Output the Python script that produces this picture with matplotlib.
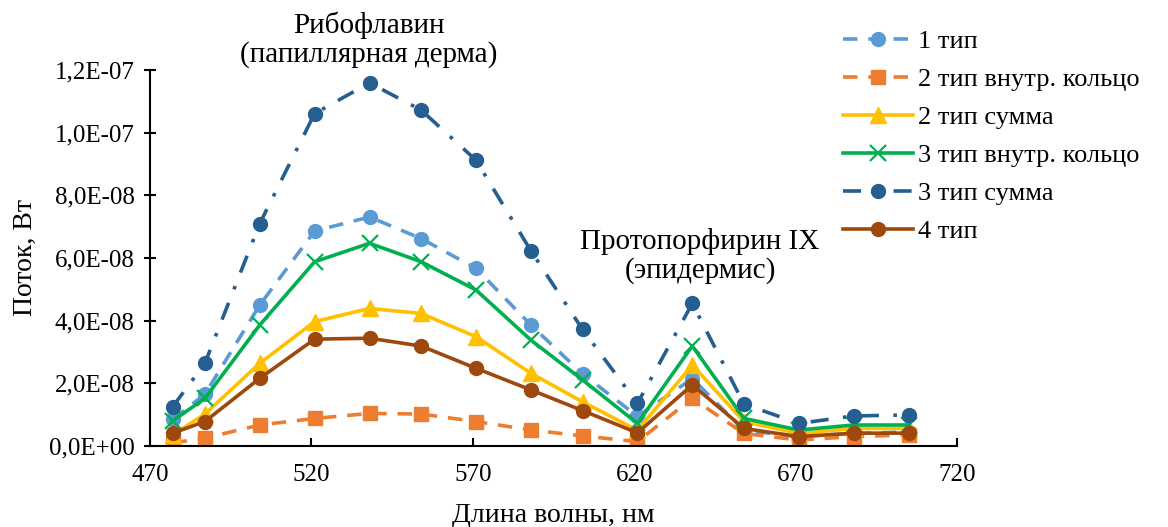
import matplotlib
matplotlib.use("Agg")
import matplotlib.pyplot as plt
from matplotlib.ticker import FuncFormatter, MultipleLocator

plt.rcParams['font.family'] = ['Liberation Serif', 'DejaVu Serif']

# wavelengths, nm
wl = [477, 487, 504, 521, 538, 554, 571, 588, 604, 621, 638, 654, 671, 688, 705]

# flux values, W
t1 = [0.85e-8, 1.65e-8, 4.50e-8, 6.86e-8, 7.31e-8, 6.62e-8, 5.67e-8, 3.86e-8, 2.30e-8, 0.95e-8,
      2.15e-8, 0.50e-8, 0.30e-8, 0.40e-8, 0.45e-8]
t2_ring = [0.10e-8, 0.25e-8, 0.67e-8, 0.88e-8, 1.04e-8, 1.02e-8, 0.78e-8, 0.51e-8, 0.32e-8, 0.14e-8,
           1.52e-8, 0.40e-8, 0.19e-8, 0.30e-8, 0.35e-8]
t2_sum = [0.35e-8, 1.02e-8, 2.64e-8, 3.97e-8, 4.39e-8, 4.23e-8, 3.49e-8, 2.32e-8, 1.41e-8, 0.50e-8,
          2.58e-8, 0.78e-8, 0.40e-8, 0.56e-8, 0.56e-8]
t3_ring = [0.80e-8, 1.52e-8, 3.86e-8, 5.88e-8, 6.47e-8, 5.88e-8, 4.98e-8, 3.38e-8, 2.11e-8, 0.72e-8,
           3.19e-8, 0.88e-8, 0.51e-8, 0.67e-8, 0.67e-8]
t3_sum = [1.25e-8, 2.64e-8, 7.10e-8, 10.61e-8, 11.59e-8, 10.72e-8, 9.12e-8, 6.23e-8, 3.72e-8, 1.36e-8,
          4.55e-8, 1.34e-8, 0.72e-8, 0.96e-8, 0.99e-8]
t4 = [0.41e-8, 0.78e-8, 2.16e-8, 3.41e-8, 3.44e-8, 3.19e-8, 2.48e-8, 1.79e-8, 1.13e-8, 0.42e-8,
      1.95e-8, 0.56e-8, 0.30e-8, 0.41e-8, 0.41e-8]

labels = ['1 тип', '2 тип внутр. кольцо', '2 тип сумма', '3 тип внутр. кольцо', '3 тип сумма', '4 тип']
xticks = [470, 520, 570, 620, 670, 720]

W, H = 1168, 527
fig = plt.figure(figsize=(W / 100, H / 100), dpi=100)
ax = fig.add_axes([150 / W, 1 - 446 / H, (957 - 150) / W, (446 - 70) / H])

lw = 2.6
ms = 10
ax.plot(wl, t1, color='#5B9BD5', lw=lw, ls=(0, (4, 3)), marker='o', ms=ms, label=labels[0])
ax.plot(wl, t2_ring, color='#ED7D31', lw=lw, ls=(0, (4, 3)), marker='s', ms=ms, label=labels[1])
ax.plot(wl, t2_sum, color='#FFC000', lw=lw, ls='-', marker='^', ms=ms + 1, label=labels[2])
ax.plot(wl, t3_ring, color='#00B050', lw=lw, ls='-', marker='x', ms=ms + 1, mew=1.6, label=labels[3])
ax.plot(wl, t3_sum, color='#255E91', lw=lw, ls=(0, (5, 4, 1, 4)), marker='o', ms=ms, label=labels[4])
ax.plot(wl, t4, color='#9E480E', lw=lw, ls='-', marker='o', ms=ms, label=labels[5])

ax.set_xlim(470, 720)
ax.set_ylim(0, 1.2e-7)
ax.set_xticks(xticks)
ax.yaxis.set_major_locator(MultipleLocator(2e-8))
ax.yaxis.set_major_formatter(FuncFormatter(lambda v, p: f"{v:.1E}".replace('.', ',')))

for s in ['top', 'right']:
    ax.spines[s].set_visible(False)
for s in ['left', 'bottom']:
    ax.spines[s].set_linewidth(1.5)
ax.tick_params(axis='x', direction='in', length=6, width=1.5, labelsize=18, pad=13)
ax.tick_params(axis='y', direction='inout', length=8, width=1.5, labelsize=18, pad=7)

ax.set_xlabel('Длина волны, нм', fontsize=20, labelpad=12)
ax.set_ylabel('Поток, Вт', fontsize=20, labelpad=8)

fig.text(369 / W, 1 - 40 / H, 'Рибофлавин\n(папиллярная дерма)', ha='center', va='center',
         fontsize=21, linespacing=1.1)
fig.text(700 / W, 1 - 256 / H, 'Протопорфирин IX\n(эпидермис)', ha='center', va='center',
         fontsize=21, linespacing=1.1)

fig.legend(loc='upper left', bbox_to_anchor=(843 / W, 1 - 30 / H), frameon=False, fontsize=19,
           handlelength=2.65, labelspacing=0.55, handletextpad=0.2, borderpad=0, borderaxespad=0)

fig.savefig('out.png', dpi=100)
